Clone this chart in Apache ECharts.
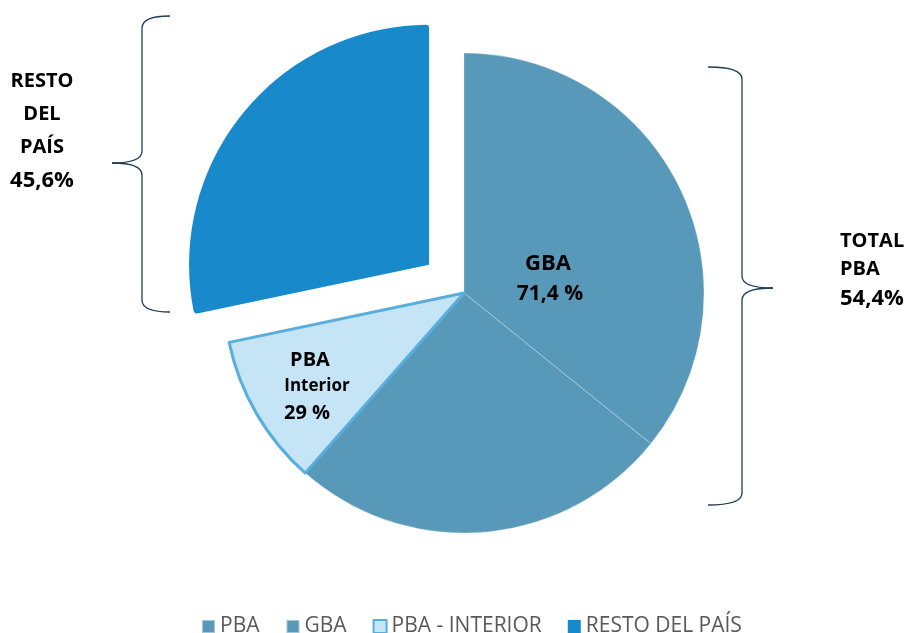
<!DOCTYPE html>
<html>
<head>
<meta charset="utf-8">
<script src="https://cdn.jsdelivr.net/npm/echarts@6/dist/echarts.min.js"></script>
<style>
  html, body { margin: 0; padding: 0; background: #fff; }
  #chart { width: 906px; height: 633px; }
</style>
</head>
<body>
<div id="chart"></div>
<script>
// datos (ángulos de cada porción)
const categories = ['PBA', 'GBA', 'PBA - INTERIOR', 'RESTO DEL PAÍS']
const shares = [35.8, 25.7, 10.2, 28.3]
const gbaLabel = ['GBA', '71,4 %']
const interiorLabel = ['PBA', 'Interior', '29 %']
const restoLabel = ['RESTO', 'DEL', 'PAÍS', '45,6%']
const totalLabel = ['TOTAL', 'PBA', '54,4%']

const mid = '#5899BA'
const font = '"Open Sans", "DejaVu Sans", sans-serif'

const styles = [
  { color: mid, borderColor: 'rgba(255,255,255,0.45)', borderWidth: 0.6 },
  { color: mid, borderColor: 'rgba(255,255,255,0.45)', borderWidth: 0.6 },
  { color: '#C5E4F6', borderColor: '#58AEDD', borderWidth: 3 },
  { color: '#188ACC', borderColor: '#188ACC', borderWidth: 0, borderRadius: 3 }
]

const chart = echarts.init(document.getElementById('chart'))

// llave { dibujada con curvas
function brace(x, yTop, yMid, yBot, tipX, endX, color) {
  const c = 12
  const s = { stroke: color, lineWidth: 1.3, fill: null }
  return [
    { type: 'bezierCurve', shape: { x1: endX, y1: yTop, cpx1: x, cpy1: yTop, x2: x, y2: yTop + c }, style: s },
    { type: 'line', shape: { x1: x, y1: yTop + c, x2: x, y2: yMid - c }, style: s },
    { type: 'bezierCurve', shape: { x1: x, y1: yMid - c, cpx1: x, cpy1: yMid, x2: tipX, y2: yMid }, style: s },
    { type: 'bezierCurve', shape: { x1: tipX, y1: yMid, cpx1: x, cpy1: yMid, x2: x, y2: yMid + c }, style: s },
    { type: 'line', shape: { x1: x, y1: yMid + c, x2: x, y2: yBot - c }, style: s },
    { type: 'bezierCurve', shape: { x1: x, y1: yBot - c, cpx1: x, cpy1: yBot, x2: endX, y2: yBot }, style: s }
  ]
}

function lines(arr, xs, ys, sizes, align) {
  return arr.map((t, i) => ({
    type: 'text',
    z: 100,
    x: Array.isArray(xs) ? xs[i] : xs,
    y: ys[i],
    style: {
      text: t,
      fill: '#000',
      font: 'bold ' + sizes[i] + 'px ' + font,
      textAlign: align,
      textVerticalAlign: 'middle'
    }
  }))
}

const option = {
  backgroundColor: '#fff',
  animation: false,
  legend: {
    top: 611,
    left: 196,
    itemWidth: 13,
    itemHeight: 13,
    itemGap: 26,
    icon: 'rect',
    selectedMode: false,
    data: categories,
    textStyle: { color: '#595959', fontSize: 21, fontFamily: font }
  },
  series: [{
    type: 'pie',
    center: [464, 293],
    radius: 240,
    startAngle: 90,
    clockwise: true,
    selectedMode: 'single',
    selectedOffset: 45,
    label: { show: false },
    labelLine: { show: false },
    emphasis: { disabled: true },
    data: categories.map((name, i) => ({
      name: name,
      value: shares[i],
      selected: i === 3,
      itemStyle: styles[i]
    }))
  }],
  graphic: [
    ...brace(142, 16, 163, 312, 112, 170, '#1F3D58'),
    ...brace(742, 67, 288, 505, 773, 708, '#1F3D58'),
    ...lines(gbaLabel, [548, 550], [264, 294], [22, 21], 'center'),
    ...lines(interiorLabel, [310, 317, 307], [360, 386, 413], [20, 17, 20], 'center'),
    ...lines(restoLabel, 42, [81, 114, 147, 181], [20, 20, 20, 22], 'center'),
    ...lines(totalLabel, 840, [241, 269, 299], [20, 20, 22], 'left')
  ]
}

chart.setOption(option)
</script>
</body>
</html>
